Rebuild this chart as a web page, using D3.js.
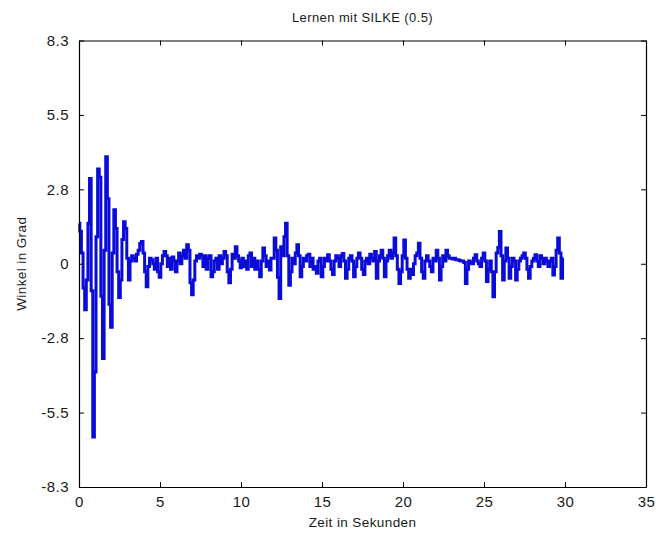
<!DOCTYPE html>
<html>
<head>
<meta charset="utf-8">
<script src="https://cdn.jsdelivr.net/npm/d3@7/dist/d3.min.js"></script>
<style>
  html, body { margin: 0; padding: 0; background: #fff; }
  svg { display: block; }
  text { font-family: "Liberation Sans", Arial, sans-serif; fill: #1a1a1a; }
</style>
</head>
<body>
<svg id="chart" width="656" height="533"></svg>
<script>
// ---- data ----
const titleText = "Lernen mit SILKE (0.5)";
const xLabelText = "Zeit in Sekunden";
const yLabelText = "Winkel in Grad";

const sampleStep = 0.1; // seconds between samples
const angle = [
  // 0 s
  1.5, 1.2, 0.4, -0.9, -1.7, -0.6, 1.5, 3.15, -1.0, -6.4,
  // 1 s
  -4.0, 1.0, 3.5, 3.2, -1.2, -3.5, 0.5, 3.95, 2.4, -1.5,
  // 2 s
  -2.35, 0.4, 2.0, 1.3, -0.3, -1.25, -0.6, 0.9, 1.55, 1.3,
  // 3 s
  0.2, -0.6, 0.1, 0.3, 0.2, 0.1, 0.35, 0.5, 0.75, 0.82,
  // 4 s
  0.4, -0.3, -0.85, -0.1, 0.2, 0.15, 0.0, -0.2, 0.2, -0.3,
  // 5 s
  -0.5, 0.0, 0.3, 0.45, 0.3, -0.1, 0.2, -0.2, 0.25, 0.1,
  // 6 s
  -0.3, 0.1, 0.4, 0.0, 0.3, 0.5, 0.2, 0.7, 0.5, -0.7,
  // 7 s
  -1.15, -0.6, 0.1, 0.3, 0.2, 0.35, 0.3, -0.1, 0.3, -0.2,
  // 8 s
  0.2, 0.3, -0.48, -0.3, 0.1, 0.2, -0.2, 0.3, 0.0, 0.2,
  // 9 s
  0.45, 0.3, -0.3, -0.7, -0.2, 0.35, 0.2, 0.63, 0.3, 0.1,
  // 10 s
  -0.15, 0.2, -0.1, 0.1, -0.2, 0.3, 0.4, -0.1, 0.2, -0.2,
  // 11 s
  0.1, -0.2, -0.48, 0.1, 0.58, 0.3, -0.1, 0.1, -0.23, 0.2,
  // 12 s
  0.2, 0.95, 0.5, -0.5, -1.28, 0.63, 0.3, 1.0, 1.5, 0.3,
  // 13 s
  -0.79, -0.3, 0.2, 0.0, 0.4, 0.7, 0.3, -0.48, -0.1, 0.2,
  // 14 s
  0.1, 0.3, 0.35, -0.1, 0.2, -0.2, -0.1, -0.35, 0.1, 0.2,
  // 15 s
  -0.48, -0.1, 0.2, 0.1, 0.33, 0.1, -0.2, -0.4, 0.1, 0.3,
  // 16 s
  0.2, -0.1, 0.3, 0.38, 0.1, -0.54, -0.2, 0.2, 0.3, 0.1,
  // 17 s
  -0.48, -0.1, 0.2, 0.4, 0.2, -0.2, -0.4, 0.1, 0.2, 0.0,
  // 18 s
  0.35, 0.2, 0.1, 0.45, -0.54, 0.1, 0.3, 0.5, 0.2, -0.48,
  // 19 s
  0.1, 0.3, 0.5, 0.2, 0.4, 0.95, 0.3, -0.2, -0.73, -0.3,
  // 20 s
  0.3, 0.88, 0.2, -0.2, -0.54, -0.2, -0.4, 0.0, 0.3, 0.4,
  // 21 s
  0.76, 0.2, -0.3, -0.54, 0.1, 0.3, 0.1, -0.1, -0.3, 0.2,
  // 22 s
  0.1, 0.5, 0.2, -0.6, -0.1, 0.3, 0.1, 0.5, 0.3, 0.2,
  // 23 s
  0.2, 0.18, 0.2, 0.15, 0.15, 0.12, 0.1, 0.1, 0.05, -0.73,
  // 24 s
  -0.2, 0.1, 0.05, 0.0, 0.2, 0.33, 0.1, 0.0, -0.1, 0.2,
  // 25 s
  0.4, 0.1, -0.66, -0.2, 0.1, -0.3, -1.22, -0.3, 0.4, 0.6,
  // 26 s
  1.19, 0.3, -0.6, 0.1, 0.58, 0.2, -0.54, -0.1, 0.2, 0.1,
  // 27 s
  -0.6, -0.2, 0.1, 0.2, 0.3, 0.4, 0.2, -0.2, -0.54, -0.1,
  // 28 s
  0.1, 0.2, 0.33, 0.1, -0.1, 0.3, 0.2, 0.0, 0.2, 0.1,
  // 29 s
  -0.1, 0.1, 0.2, -0.42, -0.1, 0.5, 0.95, 0.4, -0.54, 0.2
];

const xDomain = [0, 35];
const xTickValues = [0, 5, 10, 15, 20, 25, 30, 35];
const yDomain = [-8.25, 8.25];
const yTickValues = [-8.25, -5.5, -2.75, 0, 2.75, 5.5, 8.25];
const yTickLabels = ["-8.3", "-5.5", "-2.8", "0", "2.8", "5.5", "8.3"];

// ---- layout ----
const plot = { left: 79, right: 646, top: 40.5, bottom: 487 };

const svg = d3.select("#chart");

const x = d3.scaleLinear().domain(xDomain).range([plot.left, plot.right]);
const y = d3.scaleLinear().domain(yDomain).range([plot.bottom, plot.top]);

svg.append("rect")
  .attr("x", plot.left).attr("y", plot.top)
  .attr("width", plot.right - plot.left).attr("height", plot.bottom - plot.top)
  .attr("fill", "#fff");

// data line (sample-and-hold look)
const line = d3.line()
  .curve(d3.curveStep)
  .x((d, i) => x(i * sampleStep))
  .y(d => y(d));

svg.append("path")
  .datum(angle)
  .attr("fill", "none")
  .attr("stroke", "#0b0bd8")
  .attr("stroke-width", 3)
  .attr("stroke-linejoin", "miter")
  .attr("d", line);

// axes with inward ticks (MATLAB box style)
const tickLen = 5;
const fmtY = d => yTickLabels[yTickValues.indexOf(d)];

const gBottom = svg.append("g").attr("transform", `translate(0,${plot.bottom})`)
  .call(d3.axisBottom(x).tickValues(xTickValues).tickSizeInner(-tickLen).tickSizeOuter(0).tickPadding(9).tickFormat(d3.format("d")));
const gTop = svg.append("g").attr("transform", `translate(0,${plot.top})`)
  .call(d3.axisTop(x).tickValues(xTickValues).tickSizeInner(-tickLen).tickSizeOuter(0).tickFormat(""));
const gLeft = svg.append("g").attr("transform", `translate(${plot.left},0)`)
  .call(d3.axisLeft(y).tickValues(yTickValues).tickSizeInner(-tickLen).tickSizeOuter(0).tickPadding(10).tickFormat(fmtY));
const gRight = svg.append("g").attr("transform", `translate(${plot.right},0)`)
  .call(d3.axisRight(y).tickValues(yTickValues).tickSizeInner(-tickLen).tickSizeOuter(0).tickFormat(""));

[gBottom, gTop, gLeft, gRight].forEach(g => {
  g.selectAll(".domain").attr("stroke", "#000").attr("stroke-width", 1.2);
  g.selectAll(".tick line").attr("stroke", "#000").attr("stroke-width", 1);
  g.selectAll("text")
    .attr("font-family", "'Liberation Sans', Arial, sans-serif")
    .attr("font-size", 15)
    .attr("letter-spacing", "0.5px")
    .attr("fill", "#222");
});

// title and labels
svg.append("text")
  .attr("x", (plot.left + plot.right) / 2)
  .attr("y", 22)
  .attr("text-anchor", "middle")
  .attr("font-size", 13)
  .attr("letter-spacing", "0.4px")
  .text(titleText);

svg.append("text")
  .attr("x", (plot.left + plot.right) / 2)
  .attr("y", 527)
  .attr("text-anchor", "middle")
  .attr("font-size", 13.5)
  .attr("letter-spacing", "0.4px")
  .text(xLabelText);

svg.append("text")
  .attr("transform", `translate(26,${(plot.top + plot.bottom) / 2}) rotate(-90)`)
  .attr("text-anchor", "middle")
  .attr("font-size", 13.5)
  .attr("letter-spacing", "0.4px")
  .text(yLabelText);
</script>
</body>
</html>
